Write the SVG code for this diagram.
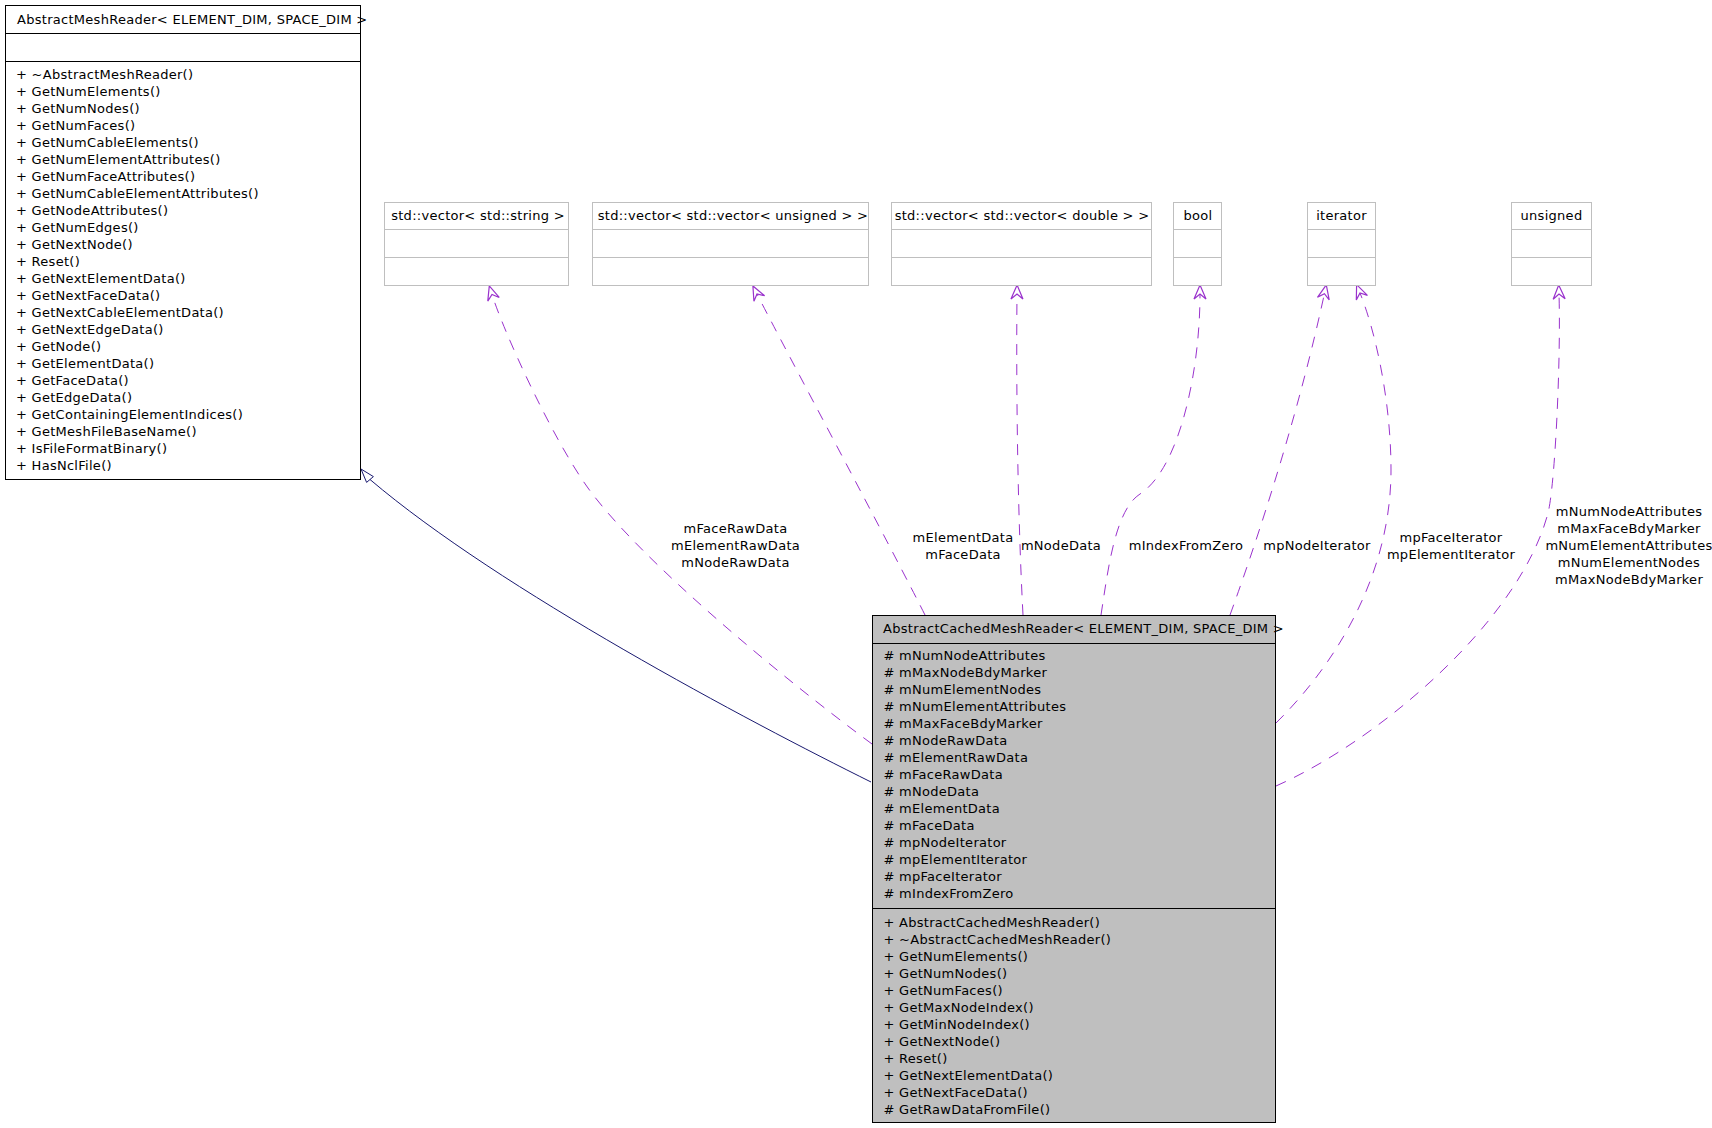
<svg xmlns="http://www.w3.org/2000/svg" width="1712" height="1128" viewBox="0 0 1712 1128">
<style>
text{font-family:"DejaVu Sans","Liberation Sans",sans-serif;font-size:13px;letter-spacing:0.28px;fill:#000}
.mid{text-anchor:middle}
.cls{fill:#fff;stroke:#000;stroke-width:1}
.cur{fill:#bfbfbf;stroke:#000;stroke-width:1}
.ext{fill:#fff;stroke:#bfbfbf;stroke-width:1}
.sep{stroke:#000;stroke-width:1}
.sepg{stroke:#bfbfbf;stroke-width:1}
.use{fill:none;stroke:#9a32cd;stroke-width:1;stroke-dasharray:11,9;marker-end:url(#vee)}
.inh{fill:none;stroke:#191970;stroke-width:1}
</style>
<defs>
<marker id="vee" markerUnits="userSpaceOnUse" viewBox="-7 -7 18 14" markerWidth="18" markerHeight="14" refX="0" refY="0" orient="auto" overflow="visible">
<path d="M9,0 L-5,-6 L0,0 L-5,6 Z" fill="none" stroke="#9a32cd" stroke-width="1.2"/>
</marker>
</defs>

<g id="edges">
<path class="inh" d="M871,782 C750,722 500,590 370,479.5"/>
<polygon points="361,469 373.4,476.6 366.6,482.4" fill="#fff" stroke="#191970" stroke-width="1"/>
<path class="use" d="M872,744 C780,676 640,560 588,488 C552,438 504,332.5 492,294.5"/>
<path class="use" d="M925,615 C895,555 784,347 757,294"/>
<path class="use" d="M1023,615 C1018,520 1016,400 1017,294"/>
<path class="use" d="M1101,615 C1108,570 1115,510 1140,494 C1180,468 1200,370 1200,294"/>
<path class="use" d="M1230,615 C1250,560 1295,430 1324.4,293.7"/>
<path class="use" d="M1276,723 C1330,670 1391,580 1391,470 C1391,400 1375,330 1360,293"/>
<path class="use" d="M1276,786 C1380,740 1520,620 1548,513 C1555,486 1561,360 1559,294"/>
<text class="mid"><tspan x="735.5" y="533">mFaceRawData</tspan><tspan x="735.5" y="550">mElementRawData</tspan><tspan x="735.5" y="567">mNodeRawData</tspan></text>
<text class="mid"><tspan x="963" y="542">mElementData</tspan><tspan x="963" y="559">mFaceData</tspan></text>
<text class="mid" x="1061" y="550">mNodeData</text>
<text class="mid" x="1186" y="550">mIndexFromZero</text>
<text class="mid" x="1317" y="550">mpNodeIterator</text>
<text class="mid"><tspan x="1451" y="542">mpFaceIterator</tspan><tspan x="1451" y="559">mpElementIterator</tspan></text>
<text class="mid"><tspan x="1629" y="516">mNumNodeAttributes</tspan><tspan x="1629" y="533">mMaxFaceBdyMarker</tspan><tspan x="1629" y="550">mNumElementAttributes</tspan><tspan x="1629" y="567">mNumElementNodes</tspan><tspan x="1629" y="584">mMaxNodeBdyMarker</tspan></text>
</g>

<g id="AbstractMeshReader">
<rect class="cls" x="5.5" y="5.5" width="355" height="474"/>
<line class="sep" x1="5.5" y1="33.5" x2="360.5" y2="33.5"/>
<line class="sep" x1="5.5" y1="61.5" x2="360.5" y2="61.5"/>
<text x="17" y="23.7">AbstractMeshReader&lt; ELEMENT_DIM, SPACE_DIM &gt;</text>
<text>
<tspan x="16" y="78.7">+ ~AbstractMeshReader()</tspan>
<tspan x="16" y="95.7">+ GetNumElements()</tspan>
<tspan x="16" y="112.7">+ GetNumNodes()</tspan>
<tspan x="16" y="129.7">+ GetNumFaces()</tspan>
<tspan x="16" y="146.7">+ GetNumCableElements()</tspan>
<tspan x="16" y="163.7">+ GetNumElementAttributes()</tspan>
<tspan x="16" y="180.7">+ GetNumFaceAttributes()</tspan>
<tspan x="16" y="197.7">+ GetNumCableElementAttributes()</tspan>
<tspan x="16" y="214.7">+ GetNodeAttributes()</tspan>
<tspan x="16" y="231.7">+ GetNumEdges()</tspan>
<tspan x="16" y="248.7">+ GetNextNode()</tspan>
<tspan x="16" y="265.7">+ Reset()</tspan>
<tspan x="16" y="282.7">+ GetNextElementData()</tspan>
<tspan x="16" y="299.7">+ GetNextFaceData()</tspan>
<tspan x="16" y="316.7">+ GetNextCableElementData()</tspan>
<tspan x="16" y="333.7">+ GetNextEdgeData()</tspan>
<tspan x="16" y="350.7">+ GetNode()</tspan>
<tspan x="16" y="367.7">+ GetElementData()</tspan>
<tspan x="16" y="384.7">+ GetFaceData()</tspan>
<tspan x="16" y="401.7">+ GetEdgeData()</tspan>
<tspan x="16" y="418.7">+ GetContainingElementIndices()</tspan>
<tspan x="16" y="435.7">+ GetMeshFileBaseName()</tspan>
<tspan x="16" y="452.7">+ IsFileFormatBinary()</tspan>
<tspan x="16" y="469.7">+ HasNclFile()</tspan>
</text>
</g>

<g id="vector_string">
<rect class="ext" x="384.5" y="202.5" width="184" height="83"/>
<line class="sepg" x1="384.5" y1="229.5" x2="568.5" y2="229.5"/>
<line class="sepg" x1="384.5" y1="257.5" x2="568.5" y2="257.5"/>
<text class="mid" x="478" y="220">std::vector&lt; std::string &gt;</text>
</g>

<g id="vector_vector_unsigned">
<rect class="ext" x="592.5" y="202.5" width="276" height="83"/>
<line class="sepg" x1="592.5" y1="229.5" x2="868.5" y2="229.5"/>
<line class="sepg" x1="592.5" y1="257.5" x2="868.5" y2="257.5"/>
<text class="mid" x="733" y="220">std::vector&lt; std::vector&lt; unsigned &gt; &gt;</text>
</g>

<g id="vector_vector_double">
<rect class="ext" x="891.5" y="202.5" width="260" height="83"/>
<line class="sepg" x1="891.5" y1="229.5" x2="1151.5" y2="229.5"/>
<line class="sepg" x1="891.5" y1="257.5" x2="1151.5" y2="257.5"/>
<text class="mid" x="1022" y="220">std::vector&lt; std::vector&lt; double &gt; &gt;</text>
</g>

<g id="bool">
<rect class="ext" x="1173.5" y="202.5" width="48" height="83"/>
<line class="sepg" x1="1173.5" y1="229.5" x2="1221.5" y2="229.5"/>
<line class="sepg" x1="1173.5" y1="257.5" x2="1221.5" y2="257.5"/>
<text class="mid" x="1198" y="220">bool</text>
</g>

<g id="iterator">
<rect class="ext" x="1307.5" y="202.5" width="68" height="83"/>
<line class="sepg" x1="1307.5" y1="229.5" x2="1375.5" y2="229.5"/>
<line class="sepg" x1="1307.5" y1="257.5" x2="1375.5" y2="257.5"/>
<text class="mid" x="1341.5" y="220">iterator</text>
</g>

<g id="unsigned">
<rect class="ext" x="1511.5" y="202.5" width="80" height="83"/>
<line class="sepg" x1="1511.5" y1="229.5" x2="1591.5" y2="229.5"/>
<line class="sepg" x1="1511.5" y1="257.5" x2="1591.5" y2="257.5"/>
<text class="mid" x="1551.5" y="220">unsigned</text>
</g>

<g id="AbstractCachedMeshReader">
<rect class="cur" x="872.5" y="615.5" width="403" height="507"/>
<line class="sep" x1="872.5" y1="643.5" x2="1275.5" y2="643.5"/>
<line class="sep" x1="872.5" y1="908.5" x2="1275.5" y2="908.5"/>
<text x="883" y="633">AbstractCachedMeshReader&lt; ELEMENT_DIM, SPACE_DIM &gt;</text>
<text>
<tspan x="883.5" y="659.7"># mNumNodeAttributes</tspan>
<tspan x="883.5" y="676.7"># mMaxNodeBdyMarker</tspan>
<tspan x="883.5" y="693.7"># mNumElementNodes</tspan>
<tspan x="883.5" y="710.7"># mNumElementAttributes</tspan>
<tspan x="883.5" y="727.7"># mMaxFaceBdyMarker</tspan>
<tspan x="883.5" y="744.7"># mNodeRawData</tspan>
<tspan x="883.5" y="761.7"># mElementRawData</tspan>
<tspan x="883.5" y="778.7"># mFaceRawData</tspan>
<tspan x="883.5" y="795.7"># mNodeData</tspan>
<tspan x="883.5" y="812.7"># mElementData</tspan>
<tspan x="883.5" y="829.7"># mFaceData</tspan>
<tspan x="883.5" y="846.7"># mpNodeIterator</tspan>
<tspan x="883.5" y="863.7"># mpElementIterator</tspan>
<tspan x="883.5" y="880.7"># mpFaceIterator</tspan>
<tspan x="883.5" y="897.7"># mIndexFromZero</tspan>
</text>
<text>
<tspan x="883.5" y="927.4">+ AbstractCachedMeshReader()</tspan>
<tspan x="883.5" y="944.4">+ ~AbstractCachedMeshReader()</tspan>
<tspan x="883.5" y="961.4">+ GetNumElements()</tspan>
<tspan x="883.5" y="978.4">+ GetNumNodes()</tspan>
<tspan x="883.5" y="995.4">+ GetNumFaces()</tspan>
<tspan x="883.5" y="1012.4">+ GetMaxNodeIndex()</tspan>
<tspan x="883.5" y="1029.4">+ GetMinNodeIndex()</tspan>
<tspan x="883.5" y="1046.4">+ GetNextNode()</tspan>
<tspan x="883.5" y="1063.4">+ Reset()</tspan>
<tspan x="883.5" y="1080.4">+ GetNextElementData()</tspan>
<tspan x="883.5" y="1097.4">+ GetNextFaceData()</tspan>
<tspan x="883.5" y="1114.4"># GetRawDataFromFile()</tspan>
</text>
</g>
</svg>
